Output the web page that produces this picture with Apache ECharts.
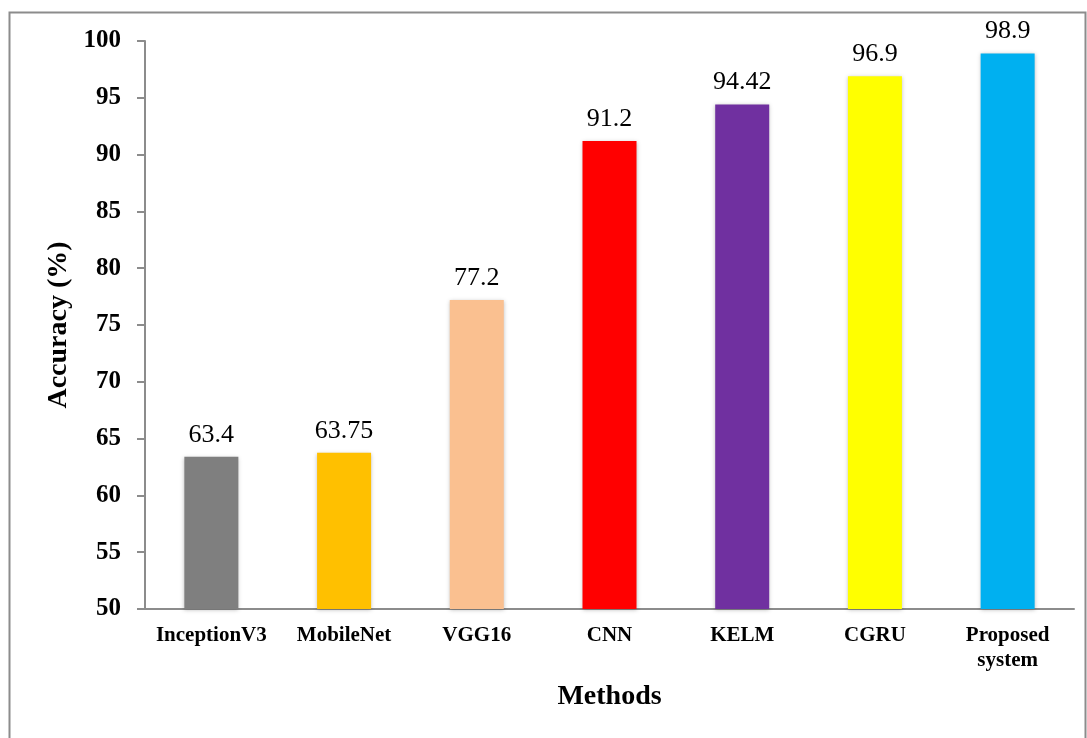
<!DOCTYPE html>
<html>
<head>
<meta charset="utf-8">
<script src="https://cdn.jsdelivr.net/npm/echarts@6/dist/echarts.min.js"></script>
<style>
  html, body { margin: 0; padding: 0; background: #fff; }
  #chart { width: 1087px; height: 738px; }
</style>
</head>
<body>
<div id="chart"></div>
<script>
// 数据
var methods = ["InceptionV3", "MobileNet", "VGG16", "CNN", "KELM", "CGRU", "Proposed\nsystem"];
var accuracy = [63.4, 63.75, 77.2, 91.2, 94.42, 96.9, 98.9];
var labels = ["63.4", "63.75", "77.2", "91.2", "94.42", "96.9", "98.9"];
var barColors = ["#7f7f7f", "#ffc000", "#fac090", "#ff0000", "#7030a0", "#ffff00", "#00b0f0"];

var serif = "'Liberation Serif', 'Times New Roman', serif";
var chart = echarts.init(document.getElementById("chart"));

var option = {
  backgroundColor: "#fff",
  animation: false,
  // 外边框
  graphic: [{
    type: "rect",
    shape: { x: 9.5, y: 12.5, width: 1076, height: 740 },
    style: { fill: "none", stroke: "#8c8c8c", lineWidth: 2 }
  }],
  grid: { left: 145, top: 41, right: 13, bottom: 129 },
  xAxis: {
    type: "category",
    data: methods,
    name: "Methods",
    nameLocation: "middle",
    nameGap: 74,
    nameTextStyle: { fontFamily: serif, fontWeight: "bold", fontSize: 28, color: "#000" },
    axisLine: { lineStyle: { color: "#8c8c8c", width: 2 } },
    axisTick: { show: false },
    axisLabel: {
      interval: 0, margin: 14, fontFamily: serif, fontWeight: "bold",
      fontSize: 21, color: "#000", lineHeight: 25
    }
  },
  yAxis: {
    type: "value",
    min: 50, max: 100, interval: 5,
    name: "Accuracy (%)",
    nameLocation: "middle",
    nameGap: 68,
    nameTextStyle: { fontFamily: serif, fontWeight: "bold", fontSize: 28, color: "#000" },
    axisLine: { show: true, lineStyle: { color: "#8c8c8c", width: 2 } },
    axisTick: { show: true, length: 8, lineStyle: { color: "#8c8c8c", width: 2 } },
    axisLabel: { margin: 24, fontFamily: serif, fontWeight: "bold", fontSize: 25, color: "#000" },
    splitLine: { show: false }
  },
  series: [{
    type: "bar",
    barWidth: 54,
    data: accuracy.map(function (v, i) {
      return { value: v, itemStyle: { color: barColors[i] } };
    }),
    itemStyle: { shadowColor: "rgba(0,0,0,0.25)", shadowBlur: 4, shadowOffsetY: 1 },
    label: {
      show: true,
      position: "top",
      distance: 9,
      fontFamily: serif,
      fontSize: 26,
      color: "#000",
      formatter: function (p) { return labels[p.dataIndex]; }
    }
  }]
};
chart.setOption(option);
</script>
</body>
</html>
